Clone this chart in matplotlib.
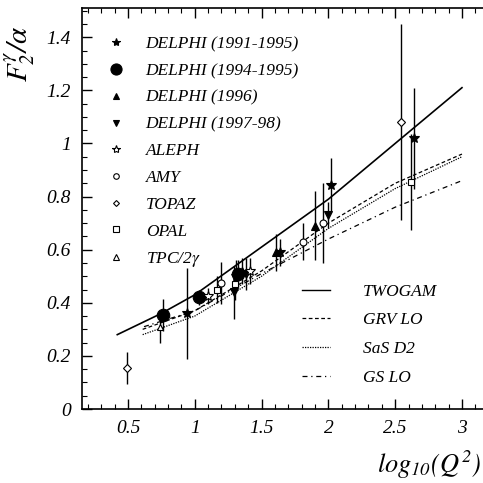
import matplotlib
matplotlib.use("Agg")
import matplotlib.pyplot as plt
from matplotlib.lines import Line2D

plt.rcParams['font.family'] = 'Liberation Serif'
plt.rcParams['font.style'] = 'italic'
plt.rcParams['mathtext.fontset'] = 'stix'

# theory curves
twogam_x = [0.42, 0.75, 1.0, 1.5, 2.0, 2.5, 3.0]
twogam_y = [0.28, 0.36, 0.43, 0.61, 0.79, 1.0, 1.21]
grv_x = [0.61, 1.0, 1.5, 2.0, 2.5, 3.0]
grv_y = [0.30, 0.37, 0.52, 0.70, 0.85, 0.96]
sas_x = [0.61, 1.0, 1.5, 2.0, 2.5, 3.0]
sas_y = [0.28, 0.35, 0.50, 0.68, 0.83, 0.95]
gs_x = [0.62, 1.0, 1.5, 2.0, 2.5, 3.0]
gs_y = [0.31, 0.37, 0.51, 0.64, 0.76, 0.86]

# data points (x, y, error)
d91_x = [0.94, 1.31, 1.64, 2.02, 2.64]
d91_y = [0.36, 0.50, 0.59, 0.845, 1.02]
d91_e = [0.17, 0.06, 0.05, 0.10, 0.19]
d94_x = [0.76, 1.03, 1.32]
d94_y = [0.355, 0.42, 0.51]
d94_e = [0.06, 0.03, 0.05]
d96_x = [1.35, 1.61, 1.90]
d96_y = [0.52, 0.59, 0.69]
d96_e = [0.05, 0.07, 0.13]
d97_x = [1.29, 1.38, 2.0]
d97_y = [0.44, 0.51, 0.73]
d97_e = [0.10, 0.06, 0.05]
aleph_x = [1.10, 1.41]
aleph_y = [0.425, 0.52]
aleph_e = [0.03, 0.05]
amy_x = [1.20, 1.81, 1.96]
amy_y = [0.475, 0.63, 0.70]
amy_e = [0.08, 0.07, 0.15]
topaz_x = [0.49, 2.54]
topaz_y = [0.155, 1.08]
topaz_e = [0.06, 0.37]
opal_x = [1.17, 1.30, 2.62]
opal_y = [0.45, 0.47, 0.855]
opal_e = [0.05, 0.06, 0.18]
tpc_x = [0.74]
tpc_y = [0.31]
tpc_e = [0.06]

fig = plt.figure(figsize=(4.83, 4.83), dpi=100)
ax = fig.add_axes([0.1698, 0.1532, 0.85, 0.8302])

ax.plot(twogam_x, twogam_y, color='black', lw=1.2)
ax.plot(grv_x, grv_y, color='black', lw=0.9, ls=(0, (3, 2)))
ax.plot(sas_x, sas_y, color='black', lw=0.9, ls=(0, (1, 1)))
ax.plot(gs_x, gs_y, color='black', lw=0.9, ls=(0, (4, 3, 1, 3)))

series = [
    (d91_x, d91_y, d91_e, '*', 'black', 7, 'DELPHI (1991-1995)'),
    (d94_x, d94_y, d94_e, 'o', 'black', 9, 'DELPHI (1994-1995)'),
    (d96_x, d96_y, d96_e, '^', 'black', 6, 'DELPHI (1996)'),
    (d97_x, d97_y, d97_e, 'v', 'black', 6, 'DELPHI (1997-98)'),
    (aleph_x, aleph_y, aleph_e, '*', 'white', 7, 'ALEPH'),
    (amy_x, amy_y, amy_e, 'o', 'white', 5, 'AMY'),
    (topaz_x, topaz_y, topaz_e, 'D', 'white', 4, 'TOPAZ'),
    (opal_x, opal_y, opal_e, 's', 'white', 5, 'OPAL'),
    (tpc_x, tpc_y, tpc_e, '^', 'white', 5, r'TPC/2$\gamma$'),
]
handles = []
for x, y, e, m, fc, ms, lab in series:
    ax.errorbar(x, y, yerr=e, fmt=m, color='black', mfc=fc, mec='black',
                ms=ms, elinewidth=1.0, capsize=0, mew=0.8, zorder=3)
    handles.append(Line2D([], [], ls='none', marker=m, color='black', mfc=fc,
                          mec='black', ms=ms - 1, mew=0.8, label=lab))

leg1 = ax.legend(handles=handles, loc='upper left', bbox_to_anchor=(0.045, 0.947),
                 frameon=False, fontsize=12.5, handlelength=1.0, handletextpad=1.2,
                 labelspacing=0.61, borderaxespad=0)
ax.add_artist(leg1)

line_handles = [
    Line2D([], [], color='black', lw=1.0, label='TWOGAM'),
    Line2D([], [], color='black', lw=0.9, ls=(0, (3, 2)), label='GRV LO'),
    Line2D([], [], color='black', lw=0.9, ls=(0, (1, 1)), label='SaS D2'),
    Line2D([], [], color='black', lw=0.9, ls=(0, (4, 3, 1, 3)), label='GS LO'),
]
ax.legend(handles=line_handles, loc='upper left', bbox_to_anchor=(0.52, 0.33),
          frameon=False, fontsize=12.5, handlelength=1.6, handletextpad=1.9,
          labelspacing=0.72, borderaxespad=0)

ax.set_xlim(0.156, 3.229)
ax.set_ylim(0, 1.51)
ax.set_xticks([0.5, 1, 1.5, 2, 2.5, 3])
ax.set_xticklabels(['0.5', '1', '1.5', '2', '2.5', '3'])
ax.set_yticks([0, 0.2, 0.4, 0.6, 0.8, 1, 1.2, 1.4])
ax.set_yticklabels(['0', '0.2', '0.4', '0.6', '0.8', '1', '1.2', '1.4'])
ax.set_xticks([i / 10 for i in range(2, 33)], minor=True)
ax.set_yticks([i / 20 for i in range(0, 31)], minor=True)
ax.tick_params(which='major', direction='in', length=7, width=1, top=True,
               labelsize=14, pad=8)
ax.tick_params(which='minor', direction='in', length=3.5, width=0.8, top=True)
ax.spines['right'].set_visible(False)
for s in ['left', 'bottom', 'top']:
    ax.spines[s].set_linewidth(1.2)

ax.set_ylabel(r'$F_2^{\gamma}/\alpha$', fontsize=21)
ax.yaxis.set_label_coords(-0.11, 0.885)
ax.set_xlabel(r'$log_{10}(Q^2)$', fontsize=19, ha='right')
ax.xaxis.set_label_coords(0.972, -0.1)

fig.savefig('out.png', dpi=100)
